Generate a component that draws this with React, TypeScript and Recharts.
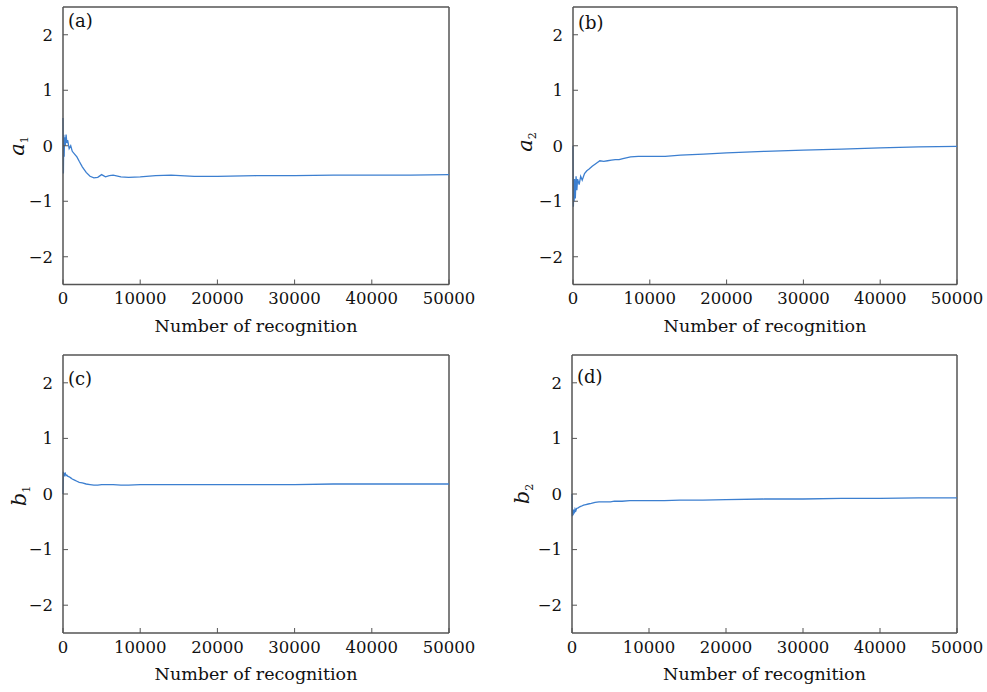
import { LineChart, Line, XAxis, YAxis, ReferenceLine } from 'recharts';

// recognition counts shared by all four panels
const recognitions = [
  0, 50, 100, 150, 200, 300, 400, 500, 600, 800, 1000, 1200, 1500, 1800, 2100,
  2500, 3000, 3500, 4000, 4500, 5000, 5500, 6000, 6500, 7500, 8500, 10000,
  12000, 14000, 17000, 20000, 25000, 30000, 35000, 40000, 45000, 50000,
];

const a1 = [
  0.5, -0.5, 0.2, -0.2, 0.15, 0.0, 0.2, 0.05, 0.1, -0.05, 0.0, -0.1, -0.15,
  -0.2, -0.28, -0.38, -0.48, -0.55, -0.58, -0.57, -0.52, -0.56, -0.54, -0.53,
  -0.56, -0.57, -0.56, -0.54, -0.53, -0.55, -0.55, -0.54, -0.54, -0.53, -0.53,
  -0.53, -0.52,
];

const a2 = [
  0.0, -1.1, -0.7, -1.0, -0.6, -0.95, -0.55, -0.8, -0.6, -0.7, -0.55, -0.62,
  -0.5, -0.45, -0.42, -0.37, -0.32, -0.27, -0.28, -0.27, -0.26, -0.25, -0.25,
  -0.23, -0.2, -0.19, -0.19, -0.19, -0.17, -0.15, -0.13, -0.1, -0.08, -0.06,
  -0.04, -0.02, -0.01,
];

const b1 = [
  0.0, 0.4, 0.35, 0.38, 0.34, 0.37, 0.33, 0.34, 0.32, 0.31, 0.29, 0.27, 0.25,
  0.23, 0.21, 0.2, 0.18, 0.17, 0.16, 0.16, 0.17, 0.17, 0.17, 0.17, 0.16, 0.16,
  0.17, 0.17, 0.17, 0.17, 0.17, 0.17, 0.17, 0.18, 0.18, 0.18, 0.18,
];

const b2 = [
  0.0, -0.4, -0.3, -0.38, -0.28, -0.35, -0.27, -0.3, -0.26, -0.25, -0.23,
  -0.22, -0.2, -0.19, -0.18, -0.17, -0.15, -0.14, -0.14, -0.14, -0.14, -0.13,
  -0.13, -0.13, -0.12, -0.12, -0.12, -0.12, -0.11, -0.11, -0.1, -0.09, -0.09,
  -0.08, -0.08, -0.07, -0.07,
];

const xTicks = [0, 10000, 20000, 30000, 40000, 50000];
const yTicks = [-2, -1, 0, 1, 2];

const FONT = '"DejaVu Serif", "Liberation Serif", serif';
const AXIS = '#555';
const LINE = '#3c7fd0';

type PanelProps = {
  values: number[];
  tag: string;
  sym: string;
  sub: string;
  plot: { l: number; t: number; r: number; b: number };
  tagPos: { x: number; y: number };
  symPos: { x: number; y: number };
};

const Y_W = 50;
const X_H = 47;
const PAD_L = 63;
const PAD_T = 7;
const PAD_R = 30;
const PAD_B = 60;

function Panel({ values, tag, sym, sub, plot, tagPos, symPos }: PanelProps) {
  const data = recognitions.map((n, i) => ({ n, v: values[i] }));
  const w = plot.r - plot.l + PAD_L + PAD_R;
  const h = plot.b - plot.t + PAD_T + PAD_B;
  return (
    <>
      <div style={{ position: 'absolute', left: plot.l - PAD_L, top: plot.t - PAD_T }}>
        <LineChart
          width={w}
          height={h}
          data={data}
          margin={{ top: PAD_T, right: PAD_R, left: PAD_L - Y_W, bottom: PAD_B - X_H }}
        >
          <XAxis
            dataKey="n"
            type="number"
            domain={[0, 50000]}
            ticks={xTicks}
            height={X_H}
            tickSize={-5}
            tickMargin={13}
            axisLine={{ stroke: AXIS, strokeWidth: 1.5 }}
            tickLine={{ stroke: AXIS }}
            tick={{ fill: '#111', fontSize: 16.5, fontFamily: FONT }}
            label={{
              value: 'Number of recognition',
              position: 'insideBottom',
              offset: 0,
              fill: '#111',
              fontSize: 17.5,
              fontFamily: FONT,
            }}
          />
          <YAxis
            type="number"
            domain={[-2.5, 2.5]}
            ticks={yTicks}
            width={Y_W}
            tickSize={-5}
            tickMargin={15}
            axisLine={{ stroke: AXIS, strokeWidth: 1.5 }}
            tickLine={{ stroke: AXIS }}
            tick={{ fill: '#111', fontSize: 16.5, fontFamily: FONT }}
            tickFormatter={(v: number) => String(v).replace('-', '\u2212')}
          />
          <ReferenceLine y={2.5} stroke={AXIS} strokeWidth={1.5} />
          <ReferenceLine x={50000} stroke={AXIS} strokeWidth={1.5} />
          <Line
            type="linear"
            dataKey="v"
            stroke={LINE}
            strokeWidth={1.3}
            dot={false}
            isAnimationActive={false}
          />
        </LineChart>
      </div>
      <div
        style={{
          position: 'absolute',
          left: tagPos.x,
          top: tagPos.y,
          transform: 'translateY(-50%)',
          fontFamily: FONT,
          fontSize: 18,
          color: '#111',
          lineHeight: 1,
        }}
      >
        {tag}
      </div>
      <div
        style={{
          position: 'absolute',
          left: symPos.x,
          top: symPos.y,
          transform: 'translate(-50%, -50%) rotate(-90deg)',
          fontFamily: FONT,
          fontSize: 21,
          color: '#111',
          lineHeight: 1,
          whiteSpace: 'nowrap',
        }}
      >
        <i>{sym}</i>
        <span style={{ fontSize: 11, verticalAlign: -4 }}>{sub}</span>
      </div>
    </>
  );
}

export default function App() {
  return (
    <div
      style={{
        position: 'absolute',
        left: 0,
        top: 0,
        width: 987,
        height: 692,
        overflow: 'hidden',
        background: '#fff',
      }}
    >
      <Panel
        values={a1}
        tag="(a)"
        sym="a"
        sub="1"
        plot={{ l: 63, t: 7, r: 449, b: 284.5 }}
        tagPos={{ x: 68, y: 21 }}
        symPos={{ x: 18, y: 146 }}
      />
      <Panel
        values={a2}
        tag="(b)"
        sym="a"
        sub="2"
        plot={{ l: 573, t: 7, r: 957, b: 284.5 }}
        tagPos={{ x: 578, y: 23 }}
        symPos={{ x: 526, y: 142 }}
      />
      <Panel
        values={b1}
        tag="(c)"
        sym="b"
        sub="1"
        plot={{ l: 63, t: 355, r: 449, b: 633 }}
        tagPos={{ x: 68, y: 379 }}
        symPos={{ x: 20, y: 496 }}
      />
      <Panel
        values={b2}
        tag="(d)"
        sym="b"
        sub="2"
        plot={{ l: 572, t: 355, r: 957, b: 633 }}
        tagPos={{ x: 577, y: 377 }}
        symPos={{ x: 523, y: 494 }}
      />
    </div>
  );
}
